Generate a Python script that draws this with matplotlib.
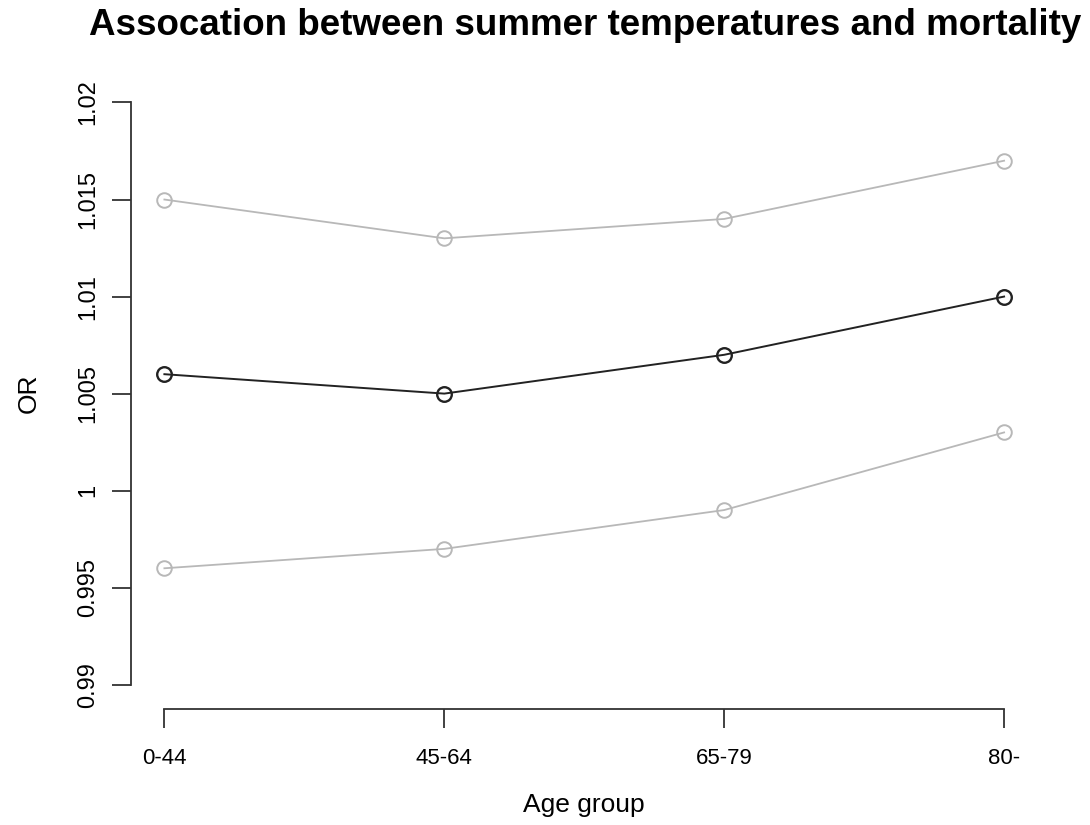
import matplotlib.pyplot as plt
import numpy as np

plt.rcParams['font.family'] = ['Liberation Sans', 'DejaVu Sans']

# data
age_groups = ['0-44', '45-64', '65-79', '80-']
or_upper = [1.015, 1.013, 1.014, 1.017]
or_est = [1.006, 1.005, 1.007, 1.010]
or_lower = [0.996, 0.997, 0.999, 1.003]
y_ticks = [0.99, 0.995, 1.0, 1.005, 1.01, 1.015, 1.02]
y_labels = ['0.99', '0.995', '1', '1.005', '1.01', '1.015', '1.02']

fig = plt.figure(figsize=(10.9, 8.25), dpi=100)
ax = fig.add_axes([0.120, 0.1418, 0.832, 0.7622])

x = np.arange(len(age_groups))
grey = '#b8b8b8'
ax.plot(x, or_upper, color=grey, lw=1.3, marker='o', ms=10.5, mfc='none', mec=grey, mew=1.4)
ax.plot(x, or_lower, color=grey, lw=1.3, marker='o', ms=10.5, mfc='none', mec=grey, mew=1.4)
ax.plot(x, or_est, color='#222222', lw=1.4, marker='o', ms=10.5, mfc='none', mec='#222222', mew=1.7)

ax.set_xlim(-0.12, 3.12)
ax.set_ylim(0.9888, 1.0212)

ax.set_xticks(x)
ax.set_xticklabels(age_groups)
ax.set_yticks(y_ticks)
ax.set_yticklabels(y_labels, rotation=90, va='center')

for s in ['top', 'right']:
    ax.spines[s].set_visible(False)
ax.spines['left'].set_bounds(0.99, 1.02)
ax.spines['bottom'].set_bounds(0, 3)
ax.spines['bottom'].set_position(('outward', 1))
for s in ['left', 'bottom']:
    ax.spines[s].set_color('#333333')
    ax.spines[s].set_linewidth(1.3)
ax.tick_params(axis='both', length=14, width=1.3, color='#333333')
ax.tick_params(axis='y', pad=9, labelsize=17)
ax.tick_params(axis='x', pad=14, labelsize=16)

ax.set_xlabel('Age group', fontsize=19, labelpad=17)
ax.set_ylabel('OR', fontsize=19, labelpad=26)
fig.suptitle('Assocation between summer temperatures and mortality',
             fontsize=26.5, fontweight='bold', x=0.537, y=0.99)

fig.savefig('out.png', dpi=100)
